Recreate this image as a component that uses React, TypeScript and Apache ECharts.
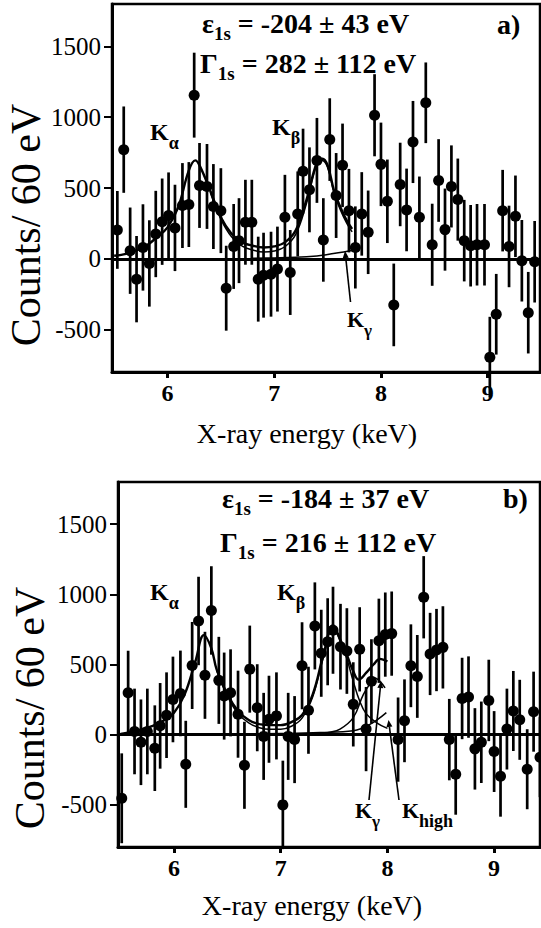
import React, { useEffect, useRef } from 'react';
import * as echarts from 'echarts';

const FONT = 'Liberation Serif';

// ---------- Panel a data ----------
const aEnergy = [5.53, 5.59, 5.65, 5.71, 5.77, 5.83, 5.89, 5.95, 6.01, 6.07, 6.14, 6.2, 6.25, 6.3, 6.37, 6.43, 6.5, 6.55, 6.62, 6.67, 6.73, 6.79, 6.85, 6.9, 6.97, 7.03, 7.1, 7.15, 7.22, 7.27, 7.33, 7.4, 7.46, 7.52, 7.58, 7.64, 7.7, 7.76, 7.82, 7.88, 7.94, 8.0, 8.06, 8.12, 8.18, 8.24, 8.3, 8.36, 8.42, 8.48, 8.54, 8.6, 8.66, 8.72, 8.78, 8.84, 8.9, 8.97, 9.02, 9.08, 9.14, 9.2, 9.26, 9.32, 9.38, 9.44, 9.5];
const aCounts = [204, 771, 57, -144, 80, -33, 175, 262, 305, 218, 376, 383, 1156, 518, 511, 369, 340, -208, 87, 128, 258, 258, -144, -116, -109, -73, 293, -97, 317, 619, 487, 695, 133, 842, 447, 660, 340, 80, 317, 187, 1014, 667, 406, -326, 525, 345, 825, 293, 1102, 99, 553, 206, 511, 418, 128, 92, 99, 99, -695, -392, 340, 87, 300, -14, -381, -21, -362];
const aErrors = [275, 305, 305, 305, 305, 305, 305, 305, 305, 305, 300, 300, 300, 300, 300, 300, 300, 300, 300, 300, 300, 300, 300, 300, 300, 300, 300, 300, 300, 300, 300, 300, 295, 292, 300, 295, 295, 290, 295, 295, 290, 295, 295, 292, 295, 292, 290, 288, 285, 290, 292, 290, 290, 290, 288, 288, 288, 288, 285, 285, 288, 288, 288, 288, 288, 288, 288];

const aFitEnergy = [5.5, 5.6, 5.7, 5.8, 5.9, 6.0, 6.1, 6.2, 6.26, 6.3, 6.4, 6.5, 6.6, 6.7, 6.8, 6.9, 7.0, 7.1, 7.2, 7.3, 7.4, 7.45, 7.5, 7.56, 7.62, 7.68, 7.73];
const aFitTotal = [21, 33, 57, 92, 151, 222, 364, 624, 695, 660, 482, 293, 177, 116, 92, 80, 87, 116, 199, 411, 683, 707, 660, 482, 364, 270, 211];
const aFitInnerEnergy = [6.4, 6.5, 6.6, 6.7, 6.8, 6.9, 7.0, 7.1, 7.2, 7.3, 7.4, 7.45, 7.5, 7.56, 7.62, 7.68, 7.73];
const aFitInner = [470, 280, 155, 90, 62, 48, 55, 85, 170, 385, 668, 695, 645, 465, 345, 250, 190];
const aKgEnergy = [6.8, 7.0, 7.2, 7.4, 7.5, 7.6, 7.7, 7.75];
const aKgCounts = [4, 6, 10, 20, 30, 42, 55, 62];

// ---------- Panel b data ----------
const bEnergy = [5.51, 5.57, 5.63, 5.69, 5.75, 5.82, 5.87, 5.93, 5.99, 6.06, 6.11, 6.17, 6.23, 6.29, 6.35, 6.42, 6.47, 6.53, 6.6, 6.66, 6.71, 6.78, 6.84, 6.89, 6.96, 7.02, 7.07, 7.13, 7.2, 7.26, 7.32, 7.38, 7.44, 7.49, 7.56, 7.62, 7.68, 7.74, 7.8, 7.85, 7.92, 7.98, 8.04, 8.1, 8.16, 8.22, 8.28, 8.34, 8.4, 8.46, 8.52, 8.58, 8.64, 8.7, 8.76, 8.82, 8.88, 8.95, 9.0, 9.06, 9.12, 9.18, 9.24, 9.31, 9.37, 9.43];
const bCounts = [-453, 298, 23, -54, 23, -96, 63, 139, 251, 294, -211, 493, 810, 423, 885, 387, 275, 298, 146, -218, 467, 192, -12, 110, 134, -500, -12, -35, 491, 174, 775, 580, 662, 744, 627, 596, 216, 608, 40, 380, 669, 713, 720, -35, 99, 491, 415, 979, 575, 603, 622, -35, -282, 258, 268, -101, -54, 244, -120, -296, 40, 169, 106, -246, 164, -160];
const bErrors = [320, 300, 305, 305, 305, 305, 305, 305, 305, 305, 310, 310, 315, 310, 315, 310, 310, 310, 310, 310, 310, 310, 310, 310, 310, 315, 310, 310, 310, 310, 310, 310, 310, 310, 305, 305, 300, 300, 300, 300, 300, 300, 300, 300, 295, 295, 295, 293, 293, 293, 293, 290, 288, 290, 290, 290, 290, 290, 288, 288, 288, 285, 285, 285, 285, 285];

const bFitEnergy = [5.5, 5.6, 5.7, 5.8, 5.9, 6.0, 6.1, 6.2, 6.28, 6.35, 6.4, 6.5, 6.6, 6.7, 6.8, 6.9, 7.0, 7.1, 7.2, 7.3, 7.4, 7.49, 7.56, 7.62, 7.68, 7.73, 7.8, 7.87, 7.93, 8.0];
const bFitTotal = [5, 20, 40, 63, 99, 157, 287, 521, 709, 615, 463, 287, 169, 105, 75, 68, 68, 90, 140, 287, 568, 780, 674, 568, 451, 392, 440, 500, 540, 521];
const bFitInnerEnergy = [6.4, 6.5, 6.6, 6.7, 6.8, 6.9, 7.0, 7.1, 7.2, 7.3, 7.4, 7.49, 7.56, 7.62, 7.68, 7.74, 7.8, 7.9, 8.0];
const bFitInner = [455, 275, 150, 85, 50, 38, 38, 60, 118, 270, 550, 765, 660, 540, 380, 240, 150, 85, 45];
const bKgEnergy = [7.37, 7.45, 7.556, 7.68, 7.775, 7.853, 7.884, 7.93, 7.978];
const bKgCounts = [5, 15, 40, 122, 287, 380, 404, 380, 333];
const bKhEnergy = [6.5, 7.0, 7.37, 7.68, 7.84, 7.99];
const bKhCounts = [3, 8, 15, 28, 75, 157];

const xTicks = [6, 7, 8, 9];
const yTicks = [-500, 0, 500, 1000, 1500];

const zip = (xs: number[], ys: number[]) => xs.map((x, i) => [x, ys[i]]);
const zip3 = (xs: number[], ys: number[], es: number[]) => xs.map((x, i) => [x, ys[i], es[i]]);

function subText(x: number, y: number, main: string, sub: string, mainSize: number, subSize: number, drop: number, rest = '') {
  const L = 40;
  return {
    type: 'text',
    x,
    y,
    z: 100,
    style: {
      text: `{m|${main}}{s|${sub}}` + (rest ? `{m|${rest}}` : ''),
      verticalAlign: 'middle',
      align: 'left',
      rich: {
        m: { fontFamily: FONT, fontWeight: 'bold', fontSize: mainSize, lineHeight: L, verticalAlign: 'middle', fill: '#000' },
        s: { fontFamily: FONT, fontWeight: 'bold', fontSize: subSize, lineHeight: L - 2 * drop, verticalAlign: 'bottom', fill: '#000' },
      },
    },
  };
}

function arrow(x1: number, y1: number, x2: number, y2: number) {
  const dx = x2 - x1, dy = y2 - y1;
  const len = Math.sqrt(dx * dx + dy * dy);
  const ux = dx / len, uy = dy / len;
  const hl = 7, hw = 3;
  const bx = x2 - ux * hl, by = y2 - uy * hl;
  return [
    { type: 'line', z: 100, shape: { x1, y1, x2: bx, y2: by }, style: { stroke: '#000', lineWidth: 1.6 } },
    {
      type: 'polygon', z: 100,
      shape: { points: [[x2, y2], [bx - uy * hw, by + ux * hw], [bx + uy * hw, by - ux * hw]] },
      style: { fill: '#000' },
    },
  ];
}

function plainText(x: number, y: number, text: string, size: number, weight: string, align = 'left', rotation = 0) {
  return {
    type: 'text', x, y, rotation, z: 100,
    style: { text, fontFamily: FONT, fontSize: size, fontWeight: weight, fill: '#000', align, verticalAlign: 'middle' },
  };
}

const errorBarSeries = (data: number[][], idx: number) => ({
  type: 'custom',
  xAxisIndex: idx,
  yAxisIndex: idx,
  z: 2,
  silent: true,
  clip: false,
  data,
  renderItem: (params: any, api: any) => {
    const x = api.value(0), y = api.value(1), e = api.value(2);
    const p1 = api.coord([x, y - e]);
    const p2 = api.coord([x, y + e]);
    return { type: 'line', shape: { x1: p1[0], y1: p1[1], x2: p2[0], y2: p2[1] }, style: { stroke: '#000', lineWidth: 2.7 } };
  },
});

const lineSeries = (data: number[][], idx: number, width: number) => ({
  type: 'line', xAxisIndex: idx, yAxisIndex: idx, data, smooth: 0.4, showSymbol: false, symbol: 'none',
  lineStyle: { color: '#000', width }, z: 3, silent: true,
});

const scatterSeries = (data: number[][], idx: number) => ({
  type: 'scatter', xAxisIndex: idx, yAxisIndex: idx, data, symbol: 'circle', symbolSize: 11,
  itemStyle: { color: '#000', opacity: 1 }, z: 4, silent: true,
  markLine: {
    silent: true, symbol: ['none', 'none'], label: { show: false },
    lineStyle: { color: '#000', width: 3, type: 'solid' },
    data: [{ yAxis: 0 }],
  },
});

const xAxisCfg = (gridIndex: number, min: number, max: number) => ({
  type: 'value', gridIndex, min, max,
  axisLine: { show: true, onZero: false, lineStyle: { color: '#000', width: 3 } },
  axisTick: { show: true, inside: false, length: 6, lineStyle: { color: '#000', width: 3 }, customValues: xTicks },
  axisLabel: { customValues: xTicks, formatter: (v: number) => String(v), fontFamily: FONT, fontWeight: 'bold', fontSize: 24, color: '#000', margin: 9 },
  splitLine: { show: false },
});

const yAxisCfg = (gridIndex: number) => ({
  type: 'value', gridIndex, min: -800, max: 1800,
  axisLine: { show: true, onZero: false, lineStyle: { color: '#000', width: 3 } },
  axisTick: { show: true, inside: false, length: 8, lineStyle: { color: '#000', width: 2 }, customValues: yTicks },
  axisLabel: { customValues: yTicks, formatter: (v: number) => String(v), fontFamily: FONT, fontSize: 25, color: '#000', margin: 11 },
  splitLine: { show: false },
});

export default function App() {
  const ref = useRef<HTMLDivElement>(null);
  useEffect(() => {
    if (!ref.current) return;
    const chart = echarts.init(ref.current, null, { renderer: 'svg' });
    const graphics: any[] = [
      // panel a
      subText(202, 23, 'ε', '1s', 28, 19, 11, ' = -204 ± 43 eV'),
      subText(200, 63, 'Γ', '1s', 28, 19, 11, ' = 282 ± 112 eV'),
      plainText(497, 24, 'a)', 28, 'bold'),
      subText(150, 132, 'K', 'α', 24, 18, 5),
      subText(272, 127, 'K', 'β', 24, 18, 6),
      subText(347, 319, 'K', 'γ', 22, 17, 5),
      ...arrow(350.5, 302, 345, 251),
      plainText(26, 225, 'Counts/ 60 eV', 42, 'normal', 'center', Math.PI / 2),
      plainText(307, 433, 'X-ray energy (keV)', 28, 'normal', 'center'),
      // panel b
      subText(222, 498, 'ε', '1s', 28, 19, 11, ' = -184 ± 37 eV'),
      subText(220, 542, 'Γ', '1s', 28, 19, 11, ' = 216 ± 112 eV'),
      plainText(503, 498, 'b)', 28, 'bold'),
      subText(150, 592, 'K', 'α', 24, 18, 5),
      subText(277, 592, 'K', 'β', 24, 18, 6),
      subText(355, 810, 'K', 'γ', 22, 17, 5),
      subText(402, 810, 'K', 'high', 22, 18, 8),
      ...arrow(369, 800, 381, 681),
      ...arrow(399, 800, 388.5, 720),
      plainText(30, 708, 'Counts/ 60 eV', 42, 'normal', 'center', Math.PI / 2),
      plainText(312, 905, 'X-ray energy (keV)', 28, 'normal', 'center'),
    ];
    chart.setOption({
      animation: false,
      backgroundColor: '#fff',
      textStyle: { fontFamily: FONT },
      grid: [
        { left: 112, top: 4, width: 428, height: 368, show: true, borderColor: '#000', borderWidth: 2.5, backgroundColor: 'transparent' },
        { left: 118, top: 482, width: 422, height: 365, show: true, borderColor: '#000', borderWidth: 2.5, backgroundColor: 'transparent' },
      ],
      xAxis: [xAxisCfg(0, 5.48, 9.49), xAxisCfg(1, 5.475, 9.43)],
      yAxis: [yAxisCfg(0), yAxisCfg(1)],
      series: [
        errorBarSeries(zip3(aEnergy, aCounts, aErrors), 0),
        lineSeries(zip(aFitEnergy, aFitTotal), 0, 2.4),
        lineSeries(zip(aFitInnerEnergy, aFitInner), 0, 1.5),
        lineSeries(zip(aKgEnergy, aKgCounts), 0, 1.5),
        scatterSeries(zip(aEnergy, aCounts), 0),
        errorBarSeries(zip3(bEnergy, bCounts, bErrors), 1),
        lineSeries(zip(bFitEnergy, bFitTotal), 1, 2.4),
        lineSeries(zip(bFitInnerEnergy, bFitInner), 1, 1.5),
        lineSeries(zip(bKgEnergy, bKgCounts), 1, 1.5),
        lineSeries(zip(bKhEnergy, bKhCounts), 1, 1.5),
        scatterSeries(zip(bEnergy, bCounts), 1),
      ],
      graphic: graphics,
    });
    return () => chart.dispose();
  }, []);
  return <div ref={ref} style={{ position: 'absolute', left: 0, top: 0, width: 541, height: 928, background: '#fff' }} />;
}
